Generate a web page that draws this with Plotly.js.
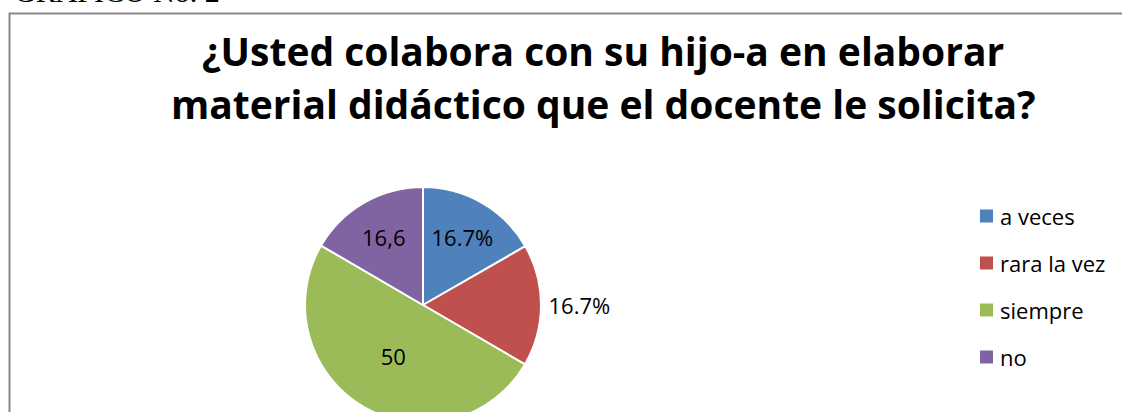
<!DOCTYPE html>
<html>
<head>
<meta charset="utf-8">
<script src="https://cdn.plot.ly/plotly-3.0.1.min.js"></script>
<style>
  html, body { margin: 0; padding: 0; overflow: hidden; background: #fff; }
  #chart { width: 1122px; height: 440px; }
</style>
</head>
<body>
<div id="chart"></div>
<script>
// ---- data ----
const categories = ["a veces", "rara la vez", "siempre", "no"];
const values = [16.7, 16.7, 50, 16.6];
const labelTexts = ["16.7%", "16.7%", "50", "16,6"];
const labelPositions = ["inside", "outside", "inside", "inside"];
const colors = ["#4F81BD", "#C0504D", "#9BBB59", "#8064A2"];
const titleLines = ["¿Usted colabora con su hijo-a en elaborar", "material didáctico que el docente le solicita?"];
const headerText = "GRÁFICO No. 2";

// ---- geometry (pixels) ----
const W = 1122, H = 440;
const px = x => x / W;
const py = y => 1 - y / H;
const cx = 423, cy = 305, r = 118;

const annotations = [];
annotations.push({
  text: headerText, xref: "paper", yref: "paper",
  x: px(12), y: py(9.5), xanchor: "left", yanchor: "bottom", showarrow: false,
  font: { family: "Liberation Serif", size: 30, color: "#000" }
});
const titleY = [50, 104];
titleLines.forEach((t, i) => annotations.push({
  text: "<b>" + t + "</b>", xref: "paper", yref: "paper",
  x: px(603), y: py(titleY[i]), xanchor: "center", yanchor: "middle", showarrow: false,
  font: { family: "Open Sans", size: 39, color: "#000" }
}));

// legend built from categories/colors
const shapes = [{
  type: "rect", xref: "paper", yref: "paper",
  x0: px(9.5), x1: px(1140), y0: py(13.5), y1: py(480),
  line: { color: "#878787", width: 2 }, fillcolor: "rgba(0,0,0,0)"
}];
const legY0 = 216, legStep = 47, legX = 980, sq = 13;
categories.forEach((c, i) => {
  const y = legY0 + i * legStep;
  shapes.push({
    type: "rect", xref: "paper", yref: "paper",
    x0: px(legX), x1: px(legX + sq), y0: py(y - sq / 2), y1: py(y + sq / 2),
    line: { width: 0 }, fillcolor: colors[i]
  });
  annotations.push({
    text: c, xref: "paper", yref: "paper",
    x: px(legX + sq + 5), y: py(y), xanchor: "left", yanchor: "middle", showarrow: false,
    font: { family: "Open Sans", size: 22, color: "#000" }
  });
});

const trace = {
  type: "pie",
  labels: categories,
  values: values,
  text: labelTexts,
  textinfo: "text",
  textposition: labelPositions,
  insidetextorientation: "horizontal",
  textfont: { family: "Open Sans", size: 22, color: "#000" },
  outsidetextfont: { family: "Open Sans", size: 22, color: "#000" },
  insidetextfont: { family: "Open Sans", size: 22, color: "#000" },
  marker: { colors: colors, line: { color: "#fff", width: 2 } },
  sort: false,
  direction: "clockwise",
  rotation: 0,
  showlegend: false,
  hoverinfo: "label+value",
  domain: { x: [px(cx - r), px(cx + r)], y: [(H - cy - r) / H, (H - cy + r) / H] }
};

const layout = {
  width: W, height: H,
  margin: { l: 0, r: 0, t: 0, b: 0 },
  paper_bgcolor: "#fff",
  showlegend: false,
  annotations: annotations,
  shapes: shapes
};

Plotly.newPlot("chart", [trace], layout, { displayModeBar: false, staticPlot: true });
</script>
</body>
</html>
